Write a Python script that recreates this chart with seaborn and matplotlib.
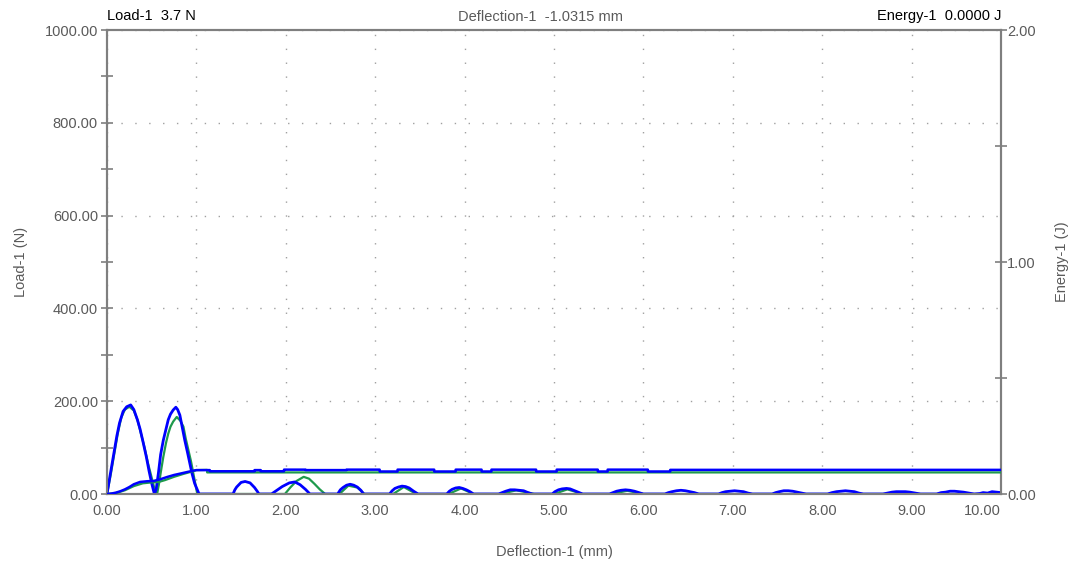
import numpy as np
import pandas as pd
import matplotlib
matplotlib.use("Agg")
import matplotlib.pyplot as plt
from matplotlib.ticker import MultipleLocator, FormatStrFormatter
import seaborn as sns

# ---- Load (N) vs deflection (mm), blue trace ----
defl_load_blue = [
    0.00, 0.03, 0.07, 0.11, 0.14, 0.18, 0.22, 0.265, 0.30, 0.34, 0.37, 0.40, 0.44, 0.47, 0.50, 0.53,
    0.55, 0.575, 0.60, 0.63, 0.66, 0.685, 0.71, 0.74, 0.77, 0.79, 0.815, 0.84, 0.87, 0.90, 0.925, 0.95, 0.98, 1.03,
    1.41, 1.43, 1.45, 1.50, 1.545, 1.60, 1.65, 1.68, 1.70,
    1.84, 1.90, 1.96, 2.00, 2.04, 2.10, 2.16, 2.22, 2.27,
    2.58, 2.61, 2.64, 2.68, 2.72, 2.76, 2.80, 2.84, 2.87,
    3.16, 3.19, 3.22, 3.26, 3.30, 3.34, 3.38, 3.43, 3.48,
    3.80, 3.83, 3.86, 3.90, 3.94, 3.98, 4.02, 4.06, 4.10,
    4.38, 4.42, 4.46, 4.51, 4.56, 4.61, 4.66, 4.71, 4.76,
    4.98, 5.01, 5.05, 5.09, 5.14, 5.18, 5.22, 5.27, 5.32,
    5.62, 5.66, 5.70, 5.75, 5.80, 5.85, 5.90, 5.95, 6.00,
    6.24, 6.28, 6.32, 6.37, 6.42, 6.47, 6.52, 6.57, 6.62,
    6.84, 6.88, 6.92, 6.97, 7.02, 7.07, 7.12, 7.17, 7.22,
    7.44, 7.48, 7.52, 7.57, 7.62, 7.67, 7.72, 7.77, 7.82,
    8.06, 8.11, 8.16, 8.21, 8.26, 8.31, 8.36, 8.41, 8.46,
    8.68, 8.73, 8.78, 8.83, 8.88, 8.93, 8.98, 9.04, 9.10,
    9.28, 9.33, 9.38, 9.43, 9.48, 9.53, 9.58, 9.64, 9.70,
    9.76, 9.80, 9.85, 9.90, 9.95, 10.00,
]
load_blue = [
    0, 35, 80, 125, 153, 178, 188, 192, 182, 160, 140, 115, 80, 50, 23, 0,
    10, 45, 85, 116, 140, 160, 172, 181, 187, 182, 170, 145, 116, 90, 67, 45, 23, 0,
    0, 9, 15, 25, 27, 24, 14, 6, 0,
    0, 8, 16, 20, 24, 26, 20, 10, 0,
    0, 9, 14, 19, 21, 19, 15, 8, 0,
    0, 7, 12, 15, 17, 16, 13, 6, 0,
    0, 6, 10, 13, 14, 12, 9, 5, 0,
    0, 3, 6, 9, 9, 8, 7, 3, 0,
    0, 5, 9, 11, 12, 11, 8, 4, 0,
    0, 3, 6, 8, 9, 8, 6, 3, 0,
    0, 3, 5, 7, 8, 7, 5, 3, 0,
    0, 3, 5, 6, 7, 6, 5, 2, 0,
    0, 3, 5, 7, 7, 6, 4, 2, 0,
    0, 3, 5, 6, 7, 6, 5, 2, 0,
    0, 2, 4, 5, 5, 5, 4, 2, 0,
    0, 3, 4, 6, 6, 5, 4, 2, 0,
    1, 3, 2, 5, 4, 3,
]

# ---- Load (N) vs deflection (mm), green trace ----
defl_load_green = [
    0.00, 0.04, 0.08, 0.12, 0.16, 0.20, 0.25, 0.30, 0.34, 0.38, 0.42, 0.46, 0.50, 0.53, 0.56,
    0.58, 0.60, 0.63, 0.66, 0.685, 0.71, 0.74, 0.78, 0.82, 0.855, 0.88, 0.91, 0.94, 0.965, 0.99, 1.01,
    1.99, 2.05, 2.12, 2.20, 2.26, 2.32, 2.38, 2.44,
    2.60, 2.70, 2.80, 2.88,
    3.20, 3.32, 3.46,
    3.82, 3.96, 4.10,
    4.40, 4.58, 4.78,
    5.00, 5.15, 5.32,
    5.64, 5.82, 6.00,
    10.00,
]
load_green = [
    0, 40, 85, 130, 165, 182, 188, 180, 160, 130, 100, 65, 35, 12, 0,
    20, 45, 80, 110, 130, 145, 156, 166, 158, 145, 120, 95, 70, 45, 20, 0,
    0, 14, 28, 37, 33, 22, 10, 0,
    0, 18, 14, 0,
    0, 15, 0,
    0, 12, 0,
    0, 8, 0,
    0, 10, 0,
    0, 7, 0,
    0,
]

# ---- Energy (J) vs deflection (mm) ----
defl_energy_blue = [
    0.00, 0.05, 0.10, 0.15, 0.20, 0.25, 0.30, 0.37, 0.45, 0.52, 0.60, 0.67, 0.75, 0.82, 0.90, 0.96, 1.00,
    1.15, 1.15, 1.65, 1.65, 1.72, 1.72, 1.98, 1.98, 2.22, 2.22, 2.68, 2.68, 3.05, 3.05, 3.25, 3.25,
    3.66, 3.66, 3.90, 3.90, 4.19, 4.19, 4.30, 4.30, 4.80, 4.80, 5.03, 5.03, 5.49, 5.49, 5.60, 5.60,
    6.05, 6.05, 6.30, 6.30, 10.00,
]
energy_blue = [
    0.000, 0.002, 0.006, 0.012, 0.020, 0.030, 0.042, 0.052, 0.055, 0.056, 0.064, 0.073, 0.082, 0.088, 0.095, 0.100, 0.103,
    0.103, 0.098, 0.098, 0.103, 0.103, 0.098, 0.098, 0.105, 0.105, 0.103, 0.103, 0.105, 0.105, 0.097, 0.097, 0.105,
    0.105, 0.097, 0.097, 0.105, 0.105, 0.097, 0.097, 0.105, 0.105, 0.097, 0.097, 0.105, 0.105, 0.097, 0.097, 0.105,
    0.105, 0.097, 0.097, 0.104, 0.104,
]
defl_energy_green = [
    0.00, 0.10, 0.20, 0.30, 0.40, 0.50, 0.58, 0.65, 0.75, 0.85, 0.95, 1.00, 1.12, 1.12, 10.00,
]
energy_green = [
    0.000, 0.004, 0.016, 0.034, 0.046, 0.050, 0.052, 0.060, 0.074, 0.086, 0.097, 0.103, 0.104, 0.093, 0.093,
]

x_ticks = [0, 1, 2, 3, 4, 5, 6, 7, 8, 9, 10]

BLUE = "#0000FF"
GREEN = "#1E9A4C"
AXIS_GRAY = "#7F7F7F"
TEXT_GRAY = "#5A5A5A"

sns.set_theme(style="white")
plt.rcParams["font.family"] = ["Liberation Sans", "DejaVu Sans"]

fig = plt.figure(figsize=(10.73, 5.65), dpi=100)
ax = fig.add_axes([107 / 1073, 1 - 494 / 565, (1001 - 107) / 1073, (494 - 30) / 565])
ax2 = ax.twinx()

df_lg = pd.DataFrame({"x": defl_load_green, "y": load_green})
df_lb = pd.DataFrame({"x": defl_load_blue, "y": load_blue})
df_eg = pd.DataFrame({"x": defl_energy_green, "y": energy_green})
df_eb = pd.DataFrame({"x": defl_energy_blue, "y": energy_blue})

sns.lineplot(data=df_lg, x="x", y="y", ax=ax, color=GREEN, lw=1.6, sort=False, estimator=None, zorder=3)
sns.lineplot(data=df_lb, x="x", y="y", ax=ax, color=BLUE, lw=2.0, sort=False, estimator=None, zorder=4)
sns.lineplot(data=df_eg, x="x", y="y", ax=ax2, color=GREEN, lw=1.6, sort=False, estimator=None, zorder=3)
sns.lineplot(data=df_eb, x="x", y="y", ax=ax2, color=BLUE, lw=1.8, sort=False, estimator=None, zorder=4)

ax.set_xticks(x_ticks)
ax.xaxis.set_minor_locator(MultipleLocator(0.5))
ax.yaxis.set_major_locator(MultipleLocator(200))
ax.yaxis.set_minor_locator(MultipleLocator(100))
ax2.yaxis.set_major_locator(MultipleLocator(1))
ax2.yaxis.set_minor_locator(MultipleLocator(0.5))
for a in (ax.xaxis, ax.yaxis, ax2.yaxis):
    a.set_major_formatter(FormatStrFormatter("%.2f"))
ax.set_xlim(0, 10)
ax.set_ylim(0, 1000)
ax2.set_ylim(0, 2)

ax.grid(True, which="major", color="#A0A0A0", linestyle=(0, (1, 9)), linewidth=1.0)
ax.set_axisbelow(True)

for a in (ax, ax2):
    for s in a.spines.values():
        s.set_color(AXIS_GRAY)
        s.set_linewidth(1.5)
    a.tick_params(which="both", direction="inout", color=AXIS_GRAY, width=1.2,
                  labelsize=10.5, labelcolor=TEXT_GRAY)
    a.tick_params(which="major", length=9)
    a.tick_params(which="minor", length=9)
ax.tick_params(axis="x", pad=3)
ax.tick_params(axis="y", pad=2)
ax2.tick_params(axis="y", pad=0)

ax.set_xlabel("Deflection-1 (mm)", fontsize=10.5, color=TEXT_GRAY, labelpad=19)
ax.set_ylabel("Load-1 (N)", fontsize=10.5, color=TEXT_GRAY, labelpad=12)
ax2.set_ylabel("Energy-1 (J)", fontsize=10.5, color=TEXT_GRAY, labelpad=14, rotation=90)

# keep the last x label inside the frame
ax.xaxis.get_major_ticks()[-1].label1.set_horizontalalignment("right")

ax.text(0.0, 1.015, "Load-1  3.7 N", transform=ax.transAxes, ha="left", va="bottom",
        fontsize=10.5, color="black")
fig.text(541 / 1073, 1 - 21 / 565, "Deflection-1  -1.0315 mm", ha="center", va="baseline",
         fontsize=10.5, color=TEXT_GRAY)
ax.text(1.0, 1.015, "Energy-1  0.0000 J", transform=ax.transAxes, ha="right", va="bottom",
        fontsize=10.5, color="black")

fig.savefig("out.png", dpi=100)
